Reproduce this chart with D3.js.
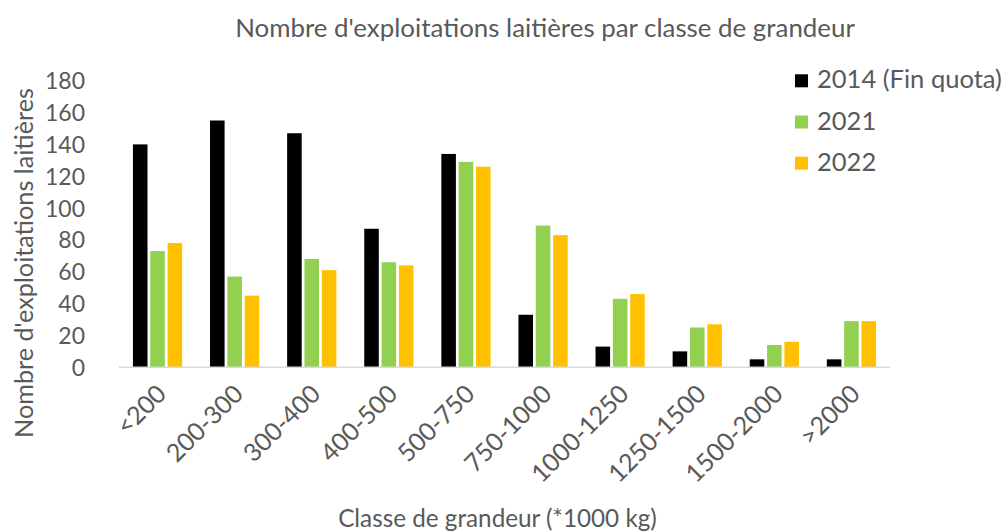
<!DOCTYPE html>
<html>
<head>
<meta charset="utf-8">
<script src="https://cdn.jsdelivr.net/npm/d3@7"></script>
<style>
  html, body { margin: 0; padding: 0; background: #fff; }
  svg { display: block; }
</style>
</head>
<body>
<svg id="chart" width="1005" height="532"></svg>
<script>
const categories = ["<200", "200-300", "300-400", "400-500", "500-750", "750-1000", "1000-1250", "1250-1500", "1500-2000", ">2000"];
const seriesNames = ["2014 (Fin quota)", "2021", "2022"];
const values2014 = [140, 155, 147, 87, 134, 33, 13, 10, 5, 5];
const values2021 = [73, 57, 68, 66, 129, 89, 43, 25, 14, 29];
const values2022 = [78, 45, 61, 64, 126, 83, 46, 27, 16, 29];
const seriesColors = ["#000000", "#92D050", "#FFC000"];
const yTicks = [0, 20, 40, 60, 80, 100, 120, 140, 160, 180];
const titleText = "Nombre d'exploitations laitières par classe de grandeur";
const xTitleText = "Classe de grandeur (*1000 kg)";
const yTitleText = "Nombre d'exploitations laitières";

const seriesValues = [values2014, values2021, values2022];
const FONT = "Lato, 'Open Sans', 'Liberation Sans', sans-serif";
const TEXT = "#595959";

const svg = d3.select("#chart");

// measure helper: font size so that text has a given width
function fitSize(str, width) {
  const t = svg.append("text").attr("font-family", FONT).attr("font-size", 100).text(str);
  const w = t.node().getComputedTextLength();
  t.remove();
  return 100 * width / w;
}

const x0 = d3.scaleBand().domain(categories).range([119, 890]).padding(0);
const x1 = d3.scaleBand().domain(seriesNames).range([-26, 26]).paddingInner(0.16).paddingOuter(0.08);
const y = d3.scaleLinear().domain([0, 180]).range([367.3, 80.7]);

// bars
const groups = svg.append("g").selectAll("g")
  .data(categories)
  .join("g")
  .attr("transform", d => `translate(${x0(d) + x0.bandwidth() / 2},0)`);

groups.selectAll("rect")
  .data((d, i) => seriesNames.map((s, j) => ({ s, v: seriesValues[j][i], c: seriesColors[j] })))
  .join("rect")
  .attr("x", d => x1(d.s))
  .attr("width", x1.bandwidth())
  .attr("y", d => y(d.v))
  .attr("height", d => y(0) - y(d.v))
  .attr("fill", d => d.c);

// x axis line
svg.append("line")
  .attr("x1", x0.range()[0]).attr("x2", x0.range()[1])
  .attr("y1", y(0)).attr("y2", y(0))
  .attr("stroke", "#d9d9d9").attr("stroke-width", 1.5);

// y axis (labels only)
const tickSize = fitSize("180", 40);
const yAxis = d3.axisLeft(y).tickValues(yTicks).tickSize(0).tickPadding(0);
const yg = svg.append("g").attr("transform", "translate(85,0)").call(yAxis);
yg.select(".domain").remove();
yg.selectAll("text")
  .attr("font-family", FONT).attr("font-size", tickSize).attr("fill", TEXT)
  .attr("dy", "0.35em");

// x axis labels rotated
const xTickSize = fitSize("<200", 58);
const xAxis = d3.axisBottom(x0).tickSize(0).tickPadding(0);
const xg = svg.append("g").attr("transform", `translate(0,${y(0)})`).call(xAxis);
xg.select(".domain").remove();
xg.selectAll("text")
  .attr("font-family", FONT).attr("font-size", xTickSize).attr("fill", TEXT)
  .attr("text-anchor", "end")
  .attr("dy", "0.35em")
  .attr("transform", "translate(4,22) rotate(-45)")
  .attr("y", 0);

// title
svg.append("text")
  .attr("x", 545).attr("y", 36.5)
  .attr("text-anchor", "middle")
  .attr("font-family", FONT).attr("font-size", fitSize(titleText, 620))
  .attr("fill", TEXT).text(titleText);

// x title
svg.append("text")
  .attr("x", 497.5).attr("y", 526.5)
  .attr("text-anchor", "middle")
  .attr("font-family", FONT).attr("font-size", fitSize(xTitleText, 319))
  .attr("fill", TEXT).text(xTitleText);

// y title
svg.append("text")
  .attr("transform", "translate(33,263) rotate(-90)")
  .attr("text-anchor", "middle")
  .attr("font-family", FONT).attr("font-size", fitSize(yTitleText, 350))
  .attr("fill", TEXT).text(yTitleText);

// legend
const legSize = fitSize(seriesNames[0], 185);
const leg = svg.append("g").selectAll("g")
  .data(seriesNames)
  .join("g")
  .attr("transform", (d, i) => `translate(0,${88.3 + i * 41.2})`);
leg.append("rect")
  .attr("x", 795).attr("y", -14).attr("width", 13).attr("height", 13)
  .attr("fill", (d, i) => seriesColors[i]);
leg.append("text")
  .attr("x", 817).attr("y", 0)
  .attr("font-family", FONT).attr("font-size", legSize)
  .attr("fill", TEXT).text(d => d);
</script>
</body>
</html>
